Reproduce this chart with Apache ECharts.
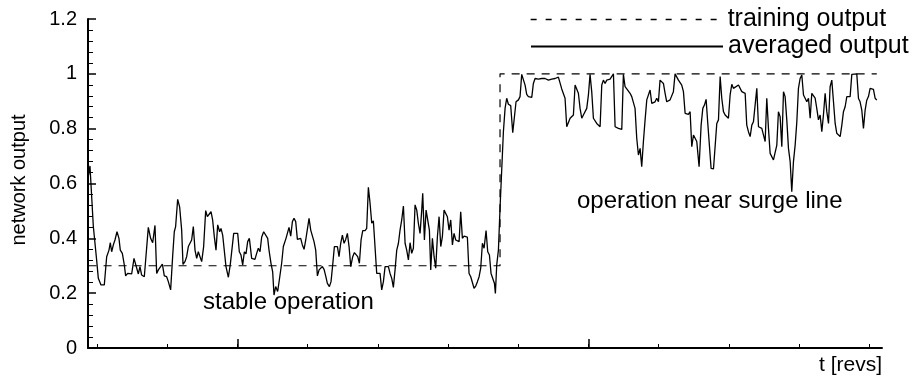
<!DOCTYPE html>
<html>
<head>
<meta charset="utf-8">
<script src="https://cdn.jsdelivr.net/npm/echarts@6/dist/echarts.min.js"></script>
<style>
html,body{margin:0;padding:0;background:#fff;}
#chart{width:915px;height:379px;}
</style>
</head>
<body>
<div id="chart"></div>
<script>
// time in revs (axis units; unlabeled in the original)
const tRevs = [
88.0,90.0,94.8,99.5,101.9,105.7,110.4,113.8,117.1,119.0,120.9,123.3,125.6,128.5,131.3,133.2,136.1,138.9,140.8,143.7,
146.0,149.4,152.7,155.5,158.9,161.2,163.6,167.4,169.8,173.1,176.4,179.3,182.6,185.0,187.4,189.7,193.1,195.9,199.2,201.6,
204.9,207.8,210.1,212.0,214.9,217.7,220.6,222.5,225.3,227.7,230.1,232.9,234.8,237.2,239.6,242.0,244.3,246.7,249.1,251.9,
254.8,257.2,259.5,262.4,264.7,267.1,269.5,271.9,274.7,276.6,279.0,281.4,283.7,287.1,289.9,291.8,294.7,297.5,300.4,302.7,
305.1,307.5,309.9,312.2,314.6,317.0,320.3,322.7,325.0,327.4,329.8,332.2,334.5,337.4,340.2,343.1,345.0,347.8,350.2,352.1,
354.5,357.3,359.7,363.0,365.4,367.8,369.2,371.1,373.5,375.9,378.3,380.6,383.0,385.4,387.8,390.1,392.5,394.9,397.3,399.6,
402.0,404.4,406.8,409.1,411.5,413.9,416.3,418.6,421.0,423.4,425.7,428.1,431.0,433.3,435.7,438.1,440.5,442.4,444.7,447.1,
449.5,451.9,454.2,456.6,459.0,461.4,464.2,466.6,469.0,471.3,473.7,476.1,478.5,481.8,484.1,486.5,488.9,491.3,493.6,496.0,
498.4,500.8,503.1,505.5,507.9,510.3,512.6,515.0,517.4,519.8,522.1,524.5,526.9,529.3,531.6,534.0,536.4,538.8,541.1,543.5,
545.9,548.2,550.6,553.0,555.4,557.7,560.1,562.5,563.9,566.3,568.7,571.0,573.4,575.3,577.7,580.1,582.4,584.8,587.2,589.6,
591.9,594.3,596.7,599.0,601.4,603.8,606.2,608.5,610.9,613.3,615.7,618.0,620.4,622.8,625.2,627.5,629.9,632.3,634.7,637.0,
639.4,641.8,644.2,646.5,648.9,651.3,654.1,656.5,658.9,661.2,663.6,666.0,667.4,669.3,671.7,674.1,676.4,678.8,681.2,683.5,
685.9,689.2,692.1,694.5,696.8,700.2,702.5,704.9,707.3,709.7,712.0,714.4,716.8,719.2,721.5,723.9,728.6,733.4,738.1,740.5,
742.9,747.6,752.4,757.1,759.5,761.9,764.3,766.6,769.0,771.4,773.8,778.5,780.9,783.3,785.6,788.0,790.4,792.7,795.1,797.5,
799.9,802.2,804.6,807.0,809.4,811.7,816.5,818.9,821.2,823.6,826.0,830.7,833.1,835.5,837.9,842.6,847.4,849.7,852.1,854.5,
856.8,859.2,861.6,864.0,866.3,868.7,871.1,873.5,875.8,878.2,880.6,883.0,885.3,887.7,890.1,894.8,897.2,899.6,901.9,904.3,
906.7,909.1,911.4,916.2,918.6,920.9,923.3,925.7,928.1,930.4,932.8,935.2,937.6,942.3,944.7,947.1,949.5,951.8,954.2,957.5,
960.4,962.8,965.1,967.5,969.9,972.3,974.6,978.0,980.3,982.7,985.1,987.5,989.8,992.2,994.6,996.9,999.3,1001.7,1004.1,1006.4,
1008.8,1013.6,1015.9,1018.3,1023.1,1025.4,1027.8,1030.2,1032.6,1034.9,1037.3,1039.7,1042.1,1044.4,1046.8,1049.2,1051.6,1053.9,1056.3,1058.7,
1061.0,1063.4,1065.8,1068.2,1070.5,1072.9,1075.3,1077.7,1080.0,1082.4,1084.8,1087.2,1089.5,1091.9,1094.3,1096.7,1099.0,1101.4,1103.8,1106.2,
1108.5,1110.9,1113.3,1115.7,1118.0,1120.4,1122.8,1125.1,1127.5,1129.9,1132.3,1134.6,1137.0,1139.4,1141.8,1144.1,1146.5,1148.9,1151.3,1153.6,
1156.0,1158.4,1160.8,1163.1,1165.5,1167.9,1170.3,1172.6,1175.0,1182.1,1184.5,1186.8,1189.2,1191.6,1194.0,1196.3,1198.7,1201.1,1203.5,1205.8,
1208.2,1210.6
];
// averaged network output
const averagedOutput = [
0.630,0.664,0.443,0.321,0.254,0.230,0.230,0.333,0.357,0.384,0.351,0.376,0.394,0.424,0.400,0.357,0.345,0.303,0.263,0.272,
0.278,0.270,0.327,0.327,0.270,0.297,0.266,0.260,0.258,0.440,0.400,0.384,0.447,0.272,0.285,0.278,0.306,0.263,0.260,0.242,
0.212,0.336,0.424,0.443,0.542,0.515,0.430,0.305,0.315,0.333,0.370,0.370,0.394,0.443,0.357,0.327,0.351,0.345,0.315,0.370,
0.501,0.479,0.485,0.497,0.467,0.406,0.357,0.449,0.424,0.436,0.412,0.406,0.297,0.258,0.306,0.305,0.418,0.424,0.418,0.351,
0.339,0.303,0.351,0.343,0.388,0.400,0.327,0.323,0.323,0.345,0.364,0.351,0.404,0.424,0.430,0.400,0.357,0.309,0.278,0.193,
0.224,0.206,0.248,0.309,0.370,0.376,0.400,0.404,0.440,0.408,0.461,0.473,0.461,0.396,0.394,0.400,0.376,0.360,0.394,0.433,
0.473,0.430,0.430,0.388,0.357,0.263,0.285,0.291,0.297,0.287,0.263,0.236,0.224,0.242,0.303,0.370,0.376,0.370,0.333,0.382,
0.412,0.382,0.396,0.418,0.370,0.297,0.333,0.348,0.351,0.333,0.309,0.394,0.428,0.428,0.436,0.586,0.528,0.455,0.464,0.457,
0.272,0.275,0.272,0.212,0.242,0.297,0.303,0.297,0.272,0.254,0.221,0.285,0.357,0.382,0.430,0.467,0.518,0.382,0.357,0.321,
0.384,0.345,0.364,0.522,0.503,0.455,0.418,0.503,0.564,0.394,0.503,0.503,0.430,0.285,0.400,0.333,0.291,0.406,0.479,0.370,
0.406,0.503,0.509,0.479,0.430,0.467,0.376,0.418,0.394,0.394,0.388,0.497,0.400,0.408,0.406,0.404,0.272,0.260,0.266,0.218,
0.226,0.242,0.260,0.291,0.382,0.364,0.428,0.351,0.339,0.272,0.266,0.236,0.199,0.303,0.357,0.515,0.649,0.789,0.874,0.911,
0.889,0.884,0.785,0.785,0.898,0.905,0.917,0.998,0.998,0.959,0.925,0.917,0.915,0.914,0.965,0.983,0.981,0.983,0.983,0.988,
0.977,0.981,0.983,0.988,0.983,0.945,0.941,0.911,0.807,0.801,0.838,0.850,0.959,0.965,0.929,0.874,0.838,0.850,0.850,0.874,
0.923,0.998,0.935,0.838,0.832,0.819,0.807,0.959,0.977,0.965,0.977,0.981,0.979,1.000,0.807,0.801,0.797,0.998,0.953,0.945,
0.941,0.929,0.917,0.914,0.874,0.765,0.704,0.728,0.661,0.753,0.832,0.905,0.898,0.941,0.892,0.898,0.911,0.898,0.977,0.983,
0.965,0.929,0.898,0.905,0.905,0.935,1.000,0.996,0.977,0.977,0.959,0.935,0.856,0.852,0.862,0.734,0.777,0.774,0.753,0.661,
0.813,0.874,0.886,0.907,0.819,0.819,0.655,0.653,0.649,0.819,0.832,0.990,0.911,0.862,0.850,0.850,0.838,0.923,0.962,0.947,
0.953,0.959,0.953,0.935,0.929,0.813,0.789,0.771,0.813,0.825,0.832,0.947,0.807,0.813,0.801,0.807,0.753,0.911,0.801,0.710,
0.704,0.686,0.680,0.740,0.862,0.844,0.734,0.935,0.917,0.832,0.728,0.680,0.570,0.680,0.740,0.825,0.947,0.983,0.996,0.923,
0.911,0.898,0.911,0.838,0.929,0.929,0.911,0.874,0.832,0.850,0.789,0.850,0.929,0.862,0.819,0.953,0.977,0.898,0.819,0.783,
0.777,0.771,0.813,0.862,0.880,0.917,0.923,0.917,0.998,1.000,0.910,0.898,0.868,0.801,0.868,0.904,0.917,0.947,0.953,0.943,
0.911,0.904
];
// training target output (step)
const tTrain = [88.0, 674.0, 674.0, 1210.6];
const trainingOutput = [0.3, 0.3, 1.0, 1.0];
// axes
const xMinorTicks = [100, 200, 300, 400, 500, 600, 700, 800, 900, 1000, 1100, 1200];
const xMajorTicks = [300, 800];
const xMin = 87.2, xMax = 1218;

const pair = (xs, ys) => xs.map((x, i) => [x, ys[i]]);
const FONT = '"Liberation Sans", Arial, Helvetica, sans-serif';

const legendBase = {
  left: 530, orient: 'vertical', padding: 0,
  itemWidth: 192, itemHeight: 14, selectedMode: false,
  itemStyle: {color: 'transparent', borderWidth: 0, opacity: 0},
  textStyle: {fontSize: 25, fontFamily: FONT, color: '#000'}
};

const chart = echarts.init(document.getElementById('chart'), null, {renderer: 'canvas'});
chart.setOption({
  animation: false,
  backgroundColor: '#ffffff',
  textStyle: {fontFamily: FONT, color: '#000'},
  grid: {left: 88, right: 33, top: 19, bottom: 31},
  legend: [
    Object.assign({}, legendBase, {data: ['training output'], top: 7,
      lineStyle: {type: [6, 9], width: 1.3}}),
    Object.assign({}, legendBase, {data: ['averaged output'], top: 34})
  ],
  xAxis: [
    {
      type: 'value', min: xMin, max: xMax, position: 'bottom',
      axisLine: {show: true, onZero: false, lineStyle: {color: '#000', width: 2}},
      axisTick: {show: true, inside: true, length: 4, customValues: xMinorTicks, lineStyle: {color: '#000', width: 1}},
      axisLabel: {show: false},
      splitLine: {show: false}
    },
    {
      type: 'value', min: xMin, max: xMax, position: 'bottom', offset: 0,
      axisLine: {show: false, onZero: false},
      axisTick: {show: true, inside: true, length: 9, customValues: xMajorTicks, lineStyle: {color: '#000', width: 1.5}},
      axisLabel: {show: false},
      splitLine: {show: false}
    }
  ],
  yAxis: {
    type: 'value', min: 0, max: 1.2, interval: 0.2,
    axisLine: {show: true, onZero: false, lineStyle: {color: '#000', width: 2}},
    axisTick: {show: true, inside: true, length: 8, lineStyle: {color: '#000', width: 1.5}},
    minorTick: {show: true, splitNumber: 5, length: 5, lineStyle: {color: '#000', width: 1}},
    axisLabel: {fontSize: 20, color: '#000', margin: 11, fontFamily: FONT,
      formatter: v => String(Math.round(v * 10) / 10)},
    splitLine: {show: false}
  },
  series: [
    {
      name: 'training output', type: 'line', xAxisIndex: 0,
      data: pair(tTrain, trainingOutput), symbol: 'none', silent: true,
      itemStyle: {color: '#000'},
      lineStyle: {color: '#000', width: 1.2, type: [8, 7]}
    },
    {
      name: 'averaged output', type: 'line', xAxisIndex: 0,
      data: pair(tRevs, averagedOutput), symbol: 'none', silent: true,
      itemStyle: {color: '#000'},
      lineStyle: {color: '#000', width: 1.3, type: 'solid'}
    }
  ],
  graphic: [
    {type: 'text', x: 19, y: 180, rotation: Math.PI / 2,
      style: {text: 'network output', fontSize: 20, fontFamily: FONT, fill: '#000',
        textAlign: 'center', textVerticalAlign: 'middle', align: 'center', verticalAlign: 'middle'}},
    {type: 'text', x: 203, y: 302,
      style: {text: 'stable operation', fontSize: 24, fontFamily: FONT, fill: '#000',
        textAlign: 'left', textVerticalAlign: 'middle', align: 'left', verticalAlign: 'middle'}},
    {type: 'text', x: 577, y: 201,
      style: {text: 'operation near surge line', fontSize: 24, fontFamily: FONT, fill: '#000',
        textAlign: 'left', textVerticalAlign: 'middle', align: 'left', verticalAlign: 'middle'}},
    {type: 'text', x: 882, y: 365,
      style: {text: 't [revs]', fontSize: 21, fontFamily: FONT, fill: '#000',
        textAlign: 'right', textVerticalAlign: 'middle', align: 'right', verticalAlign: 'middle'}}
  ]
});
</script>
</body>
</html>
